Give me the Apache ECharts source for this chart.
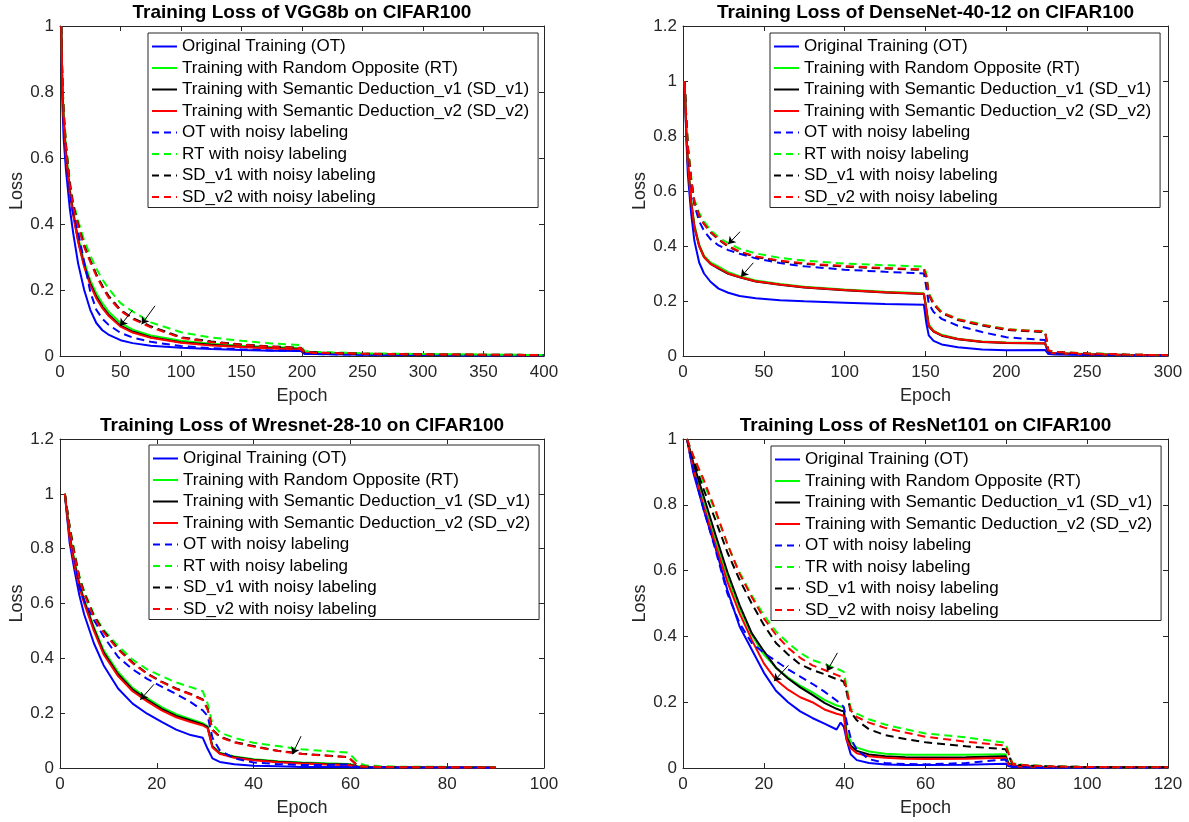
<!DOCTYPE html>
<html>
<head>
<meta charset="utf-8">
<title>Training Loss on CIFAR100</title>
<script src="https://cdn.jsdelivr.net/npm/echarts@6/dist/echarts.min.js"></script>
<style>
  html, body { margin: 0; padding: 0; background: #fff; }
  #chart { width: 1189px; height: 822px; }
</style>
</head>
<body>
<div id="chart"></div>
<script>
// ---- VGG8b ----
const vggEpochs = [1, 2, 3, 5, 8, 11, 15, 20, 25, 30, 35, 40, 50, 60, 75, 100, 125, 150, 175, 199, 202, 210, 225, 250, 300, 350, 400]
const vggOT = [1.00, 0.76, 0.66, 0.56, 0.45, 0.37, 0.28, 0.20, 0.14, 0.10, 0.078, 0.065, 0.048, 0.039, 0.031, 0.025, 0.021, 0.018, 0.016, 0.015, 0.007, 0.006, 0.005, 0.004, 0.003, 0.002, 0.002]
const vggRT = [1.00, 0.82, 0.73, 0.62, 0.51, 0.44, 0.36, 0.285, 0.23, 0.19, 0.16, 0.135, 0.10, 0.08, 0.062, 0.046, 0.037, 0.031, 0.027, 0.024, 0.011, 0.010, 0.009, 0.007, 0.005, 0.004, 0.003]
const vggSD1 = [1.00, 0.81, 0.72, 0.61, 0.50, 0.43, 0.35, 0.275, 0.22, 0.18, 0.15, 0.126, 0.092, 0.074, 0.057, 0.042, 0.034, 0.028, 0.024, 0.021, 0.010, 0.009, 0.008, 0.006, 0.004, 0.003, 0.002]
const vggSD2 = [1.00, 0.80, 0.71, 0.60, 0.495, 0.425, 0.345, 0.27, 0.215, 0.175, 0.145, 0.122, 0.089, 0.071, 0.055, 0.040, 0.032, 0.027, 0.023, 0.020, 0.010, 0.009, 0.008, 0.006, 0.004, 0.003, 0.002]
const vggOTNoisy = [1.00, 0.82, 0.72, 0.62, 0.50, 0.43, 0.375, 0.285, 0.195, 0.14, 0.113, 0.095, 0.070, 0.056, 0.043, 0.030, 0.024, 0.020, 0.017, 0.015, 0.007, 0.006, 0.005, 0.004, 0.003, 0.002, 0.002]
const vggRTNoisy = [1.00, 0.84, 0.75, 0.645, 0.535, 0.465, 0.41, 0.35, 0.305, 0.265, 0.232, 0.205, 0.16, 0.135, 0.102, 0.072, 0.056, 0.046, 0.038, 0.033, 0.015, 0.013, 0.011, 0.008, 0.006, 0.004, 0.003]
const vggSD1Noisy = [1.00, 0.83, 0.74, 0.635, 0.525, 0.455, 0.40, 0.335, 0.29, 0.248, 0.213, 0.183, 0.140, 0.115, 0.090, 0.057, 0.044, 0.035, 0.029, 0.025, 0.012, 0.011, 0.009, 0.007, 0.005, 0.004, 0.003]
const vggSD2Noisy = [1.00, 0.83, 0.74, 0.63, 0.52, 0.45, 0.395, 0.33, 0.285, 0.243, 0.208, 0.178, 0.137, 0.112, 0.087, 0.055, 0.042, 0.034, 0.028, 0.024, 0.012, 0.010, 0.009, 0.007, 0.005, 0.004, 0.003]
const vggArrows = [[60, 0.139, 49.6, 0.091], [78.5, 0.152, 67.5, 0.096]]

// ---- DenseNet-40-12 ----
const denseEpochs = [1, 2, 3, 5, 7, 10, 13, 17, 22, 28, 35, 45, 60, 75, 100, 125, 149, 150.5, 152, 155, 160, 170, 185, 200, 224, 226, 230, 250, 275, 300]
const denseOT = [1.00, 0.80, 0.66, 0.52, 0.42, 0.34, 0.30, 0.27, 0.245, 0.23, 0.218, 0.21, 0.203, 0.199, 0.194, 0.189, 0.186, 0.12, 0.075, 0.055, 0.042, 0.032, 0.024, 0.021, 0.022, 0.007, 0.005, 0.004, 0.003, 0.002]
const denseRT = [1.00, 0.83, 0.71, 0.57, 0.48, 0.405, 0.365, 0.34, 0.325, 0.305, 0.29, 0.275, 0.262, 0.252, 0.242, 0.234, 0.228, 0.175, 0.115, 0.092, 0.077, 0.063, 0.053, 0.049, 0.047, 0.013, 0.010, 0.007, 0.004, 0.003]
const denseSD1 = [1.00, 0.82, 0.70, 0.56, 0.47, 0.40, 0.36, 0.335, 0.318, 0.299, 0.286, 0.271, 0.259, 0.249, 0.239, 0.231, 0.225, 0.168, 0.108, 0.089, 0.074, 0.061, 0.051, 0.047, 0.045, 0.012, 0.010, 0.006, 0.004, 0.003]
const denseSD2 = [1.00, 0.82, 0.70, 0.56, 0.47, 0.40, 0.36, 0.335, 0.32, 0.30, 0.287, 0.272, 0.26, 0.25, 0.24, 0.232, 0.226, 0.17, 0.11, 0.09, 0.075, 0.062, 0.052, 0.048, 0.046, 0.012, 0.010, 0.006, 0.004, 0.003]
const denseOTNoisy = [1.00, 0.86, 0.75, 0.63, 0.55, 0.49, 0.455, 0.425, 0.402, 0.385, 0.372, 0.355, 0.338, 0.326, 0.314, 0.306, 0.300, 0.25, 0.19, 0.16, 0.135, 0.11, 0.087, 0.068, 0.058, 0.012, 0.009, 0.005, 0.003, 0.002]
const denseRTNoisy = [1.00, 0.87, 0.77, 0.655, 0.57, 0.52, 0.49, 0.458, 0.432, 0.41, 0.39, 0.373, 0.357, 0.347, 0.336, 0.330, 0.325, 0.30, 0.23, 0.195, 0.16, 0.135, 0.115, 0.098, 0.090, 0.02, 0.015, 0.010, 0.005, 0.003]
const denseSD1Noisy = [1.00, 0.87, 0.76, 0.645, 0.56, 0.51, 0.48, 0.45, 0.423, 0.398, 0.378, 0.36, 0.345, 0.335, 0.325, 0.318, 0.313, 0.288, 0.223, 0.188, 0.156, 0.131, 0.111, 0.095, 0.087, 0.019, 0.014, 0.009, 0.005, 0.003]
const denseSD2Noisy = [1.00, 0.87, 0.76, 0.645, 0.56, 0.51, 0.48, 0.452, 0.425, 0.40, 0.38, 0.362, 0.347, 0.337, 0.327, 0.320, 0.315, 0.29, 0.225, 0.19, 0.158, 0.133, 0.113, 0.097, 0.089, 0.02, 0.015, 0.009, 0.005, 0.003]
const denseArrows = [[35.3, 0.452, 28, 0.407], [43.5, 0.339, 35.9, 0.288]]

// ---- Wresnet-28-10 ----
const wresEpochs = [1, 2, 3, 4, 5, 7, 9, 12, 15, 18, 21, 24, 27, 29.5, 30.5, 31.5, 33, 36, 40, 45, 50, 55, 59.5, 60.5, 61.5, 63, 66, 70, 80, 90]
const wresOT = [1.00, 0.82, 0.72, 0.63, 0.56, 0.455, 0.375, 0.29, 0.235, 0.198, 0.168, 0.14, 0.12, 0.11, 0.07, 0.035, 0.022, 0.014, 0.008, 0.006, 0.004, 0.004, 0.004, 0.003, 0.002, 0.002, 0.002, 0.002, 0.001, 0.001]
const wresRT = [1.00, 0.85, 0.755, 0.675, 0.615, 0.515, 0.43, 0.35, 0.292, 0.255, 0.222, 0.196, 0.178, 0.163, 0.153, 0.08, 0.056, 0.042, 0.032, 0.025, 0.020, 0.017, 0.015, 0.012, 0.006, 0.004, 0.003, 0.003, 0.002, 0.002]
const wresSD1 = [1.00, 0.845, 0.748, 0.668, 0.608, 0.508, 0.422, 0.342, 0.286, 0.249, 0.216, 0.19, 0.173, 0.159, 0.149, 0.078, 0.054, 0.040, 0.030, 0.023, 0.018, 0.015, 0.013, 0.010, 0.005, 0.004, 0.003, 0.003, 0.002, 0.002]
const wresSD2 = [1.00, 0.84, 0.74, 0.66, 0.60, 0.50, 0.415, 0.335, 0.28, 0.243, 0.21, 0.185, 0.168, 0.155, 0.145, 0.075, 0.052, 0.037, 0.028, 0.021, 0.016, 0.013, 0.011, 0.008, 0.005, 0.004, 0.003, 0.003, 0.002, 0.002]
const wresOTNoisy = [1.00, 0.87, 0.77, 0.66, 0.61, 0.54, 0.48, 0.405, 0.36, 0.325, 0.297, 0.27, 0.24, 0.21, 0.19, 0.11, 0.065, 0.035, 0.02, 0.014, 0.011, 0.011, 0.013, 0.006, 0.004, 0.003, 0.003, 0.002, 0.002, 0.001]
const wresRTNoisy = [1.00, 0.88, 0.79, 0.70, 0.645, 0.56, 0.505, 0.445, 0.395, 0.36, 0.335, 0.312, 0.295, 0.28, 0.235, 0.16, 0.13, 0.11, 0.092, 0.08, 0.068, 0.062, 0.056, 0.04, 0.02, 0.01, 0.007, 0.005, 0.004, 0.003]
const wresSD1Noisy = [1.00, 0.88, 0.78, 0.695, 0.64, 0.555, 0.50, 0.435, 0.385, 0.345, 0.315, 0.29, 0.27, 0.25, 0.215, 0.14, 0.115, 0.095, 0.08, 0.063, 0.052, 0.046, 0.04, 0.025, 0.008, 0.005, 0.004, 0.003, 0.003, 0.002]
const wresSD2Noisy = [1.00, 0.875, 0.775, 0.69, 0.635, 0.55, 0.495, 0.432, 0.382, 0.343, 0.313, 0.288, 0.268, 0.248, 0.213, 0.138, 0.113, 0.093, 0.078, 0.062, 0.051, 0.045, 0.039, 0.024, 0.008, 0.005, 0.004, 0.003, 0.003, 0.002]
const wresArrows = [[19.4, 0.305, 16.6, 0.249], [49.8, 0.116, 48, 0.05]]

// ---- ResNet101 ----
const resEpochs = [1, 2.5, 5, 8, 11, 14, 17, 20, 23, 26, 29, 32, 35, 38, 39, 39.8, 40.5, 41.5, 43, 46, 50, 55, 60, 70, 79.8, 80.5, 81.5, 84, 90, 100, 110, 120]
const resOT = [1.00, 0.90, 0.79, 0.67, 0.54, 0.43, 0.36, 0.29, 0.235, 0.20, 0.172, 0.152, 0.135, 0.117, 0.138, 0.125, 0.085, 0.042, 0.024, 0.015, 0.011, 0.009, 0.009, 0.010, 0.013, 0.006, 0.003, 0.002, 0.001, 0.001, 0.001, 0.001]
const resRT = [1.00, 0.92, 0.81, 0.69, 0.58, 0.485, 0.405, 0.345, 0.305, 0.275, 0.25, 0.23, 0.207, 0.19, 0.187, 0.184, 0.11, 0.08, 0.062, 0.05, 0.043, 0.04, 0.04, 0.04, 0.042, 0.016, 0.008, 0.005, 0.003, 0.002, 0.002, 0.002]
const resSD1 = [1.00, 0.93, 0.83, 0.71, 0.595, 0.495, 0.41, 0.355, 0.305, 0.272, 0.245, 0.222, 0.198, 0.18, 0.175, 0.172, 0.095, 0.068, 0.052, 0.041, 0.036, 0.033, 0.032, 0.033, 0.036, 0.014, 0.007, 0.005, 0.003, 0.002, 0.002, 0.002]
const resSD2 = [1.00, 0.91, 0.80, 0.68, 0.565, 0.47, 0.39, 0.318, 0.268, 0.238, 0.215, 0.20, 0.178, 0.165, 0.162, 0.158, 0.085, 0.06, 0.045, 0.036, 0.031, 0.028, 0.027, 0.028, 0.031, 0.012, 0.006, 0.004, 0.003, 0.002, 0.002, 0.002]
const resOTNoisy = [1.00, 0.91, 0.79, 0.665, 0.53, 0.44, 0.38, 0.35, 0.325, 0.30, 0.278, 0.256, 0.232, 0.205, 0.195, 0.185, 0.14, 0.09, 0.055, 0.027, 0.015, 0.012, 0.011, 0.015, 0.026, 0.008, 0.004, 0.003, 0.002, 0.001, 0.001, 0.001]
const resRTNoisy = [1.00, 0.95, 0.87, 0.78, 0.68, 0.595, 0.525, 0.465, 0.415, 0.38, 0.35, 0.328, 0.316, 0.302, 0.297, 0.292, 0.245, 0.18, 0.165, 0.148, 0.132, 0.118, 0.105, 0.093, 0.077, 0.05, 0.015, 0.010, 0.006, 0.003, 0.002, 0.002]
const resSD1Noisy = [1.00, 0.94, 0.85, 0.755, 0.655, 0.572, 0.50, 0.435, 0.38, 0.345, 0.315, 0.298, 0.285, 0.27, 0.267, 0.262, 0.23, 0.17, 0.145, 0.118, 0.10, 0.088, 0.078, 0.066, 0.057, 0.04, 0.012, 0.008, 0.005, 0.003, 0.002, 0.002]
const resSD2Noisy = [1.00, 0.95, 0.88, 0.785, 0.68, 0.59, 0.52, 0.455, 0.405, 0.365, 0.335, 0.312, 0.298, 0.283, 0.278, 0.272, 0.24, 0.175, 0.155, 0.138, 0.122, 0.108, 0.095, 0.08, 0.068, 0.045, 0.013, 0.009, 0.005, 0.003, 0.002, 0.002]
const resArrows = [[26.1, 0.312, 22.5, 0.264], [38.2, 0.35, 35.6, 0.294]]

const lineNames = [
  'Original Training (OT)',
  'Training with Random Opposite (RT)',
  'Training with Semantic Deduction_v1 (SD_v1)',
  'Training with Semantic Deduction_v2 (SD_v2)',
  'OT with noisy labeling',
  'RT with noisy labeling',
  'SD_v1 with noisy labeling',
  'SD_v2 with noisy labeling'
]
// the ResNet101 panel says "TR" in its legend
const resLineNames = lineNames.slice()
resLineNames[5] = 'TR with noisy labeling'

const lineColors = ['#0000ff', '#00ff00', '#000000', '#ff0000']
const dashPattern = [8, 5]
const axisColor = '#262626'
const font = 'Liberation Sans, Arial, Helvetica, sans-serif'

const panels = [
  {
    title: 'Training Loss of VGG8b on CIFAR100',
    epochs: vggEpochs,
    lines: [vggOT, vggRT, vggSD1, vggSD2, vggOTNoisy, vggRTNoisy, vggSD1Noisy, vggSD2Noisy],
    names: lineNames, arrows: vggArrows,
    xMax: 400, xStep: 50, yMax: 1,
    grid: { left: 60, top: 26, width: 484, height: 330 },
    legend: { left: 148, top: 32 }
  },
  {
    title: 'Training Loss of DenseNet-40-12 on CIFAR100',
    epochs: denseEpochs,
    lines: [denseOT, denseRT, denseSD1, denseSD2, denseOTNoisy, denseRTNoisy, denseSD1Noisy, denseSD2Noisy],
    names: lineNames, arrows: denseArrows,
    xMax: 300, xStep: 50, yMax: 1.2,
    grid: { left: 683, top: 26, width: 485, height: 330 },
    legend: { left: 770, top: 32 }
  },
  {
    title: 'Training Loss of Wresnet-28-10 on CIFAR100',
    epochs: wresEpochs,
    lines: [wresOT, wresRT, wresSD1, wresSD2, wresOTNoisy, wresRTNoisy, wresSD1Noisy, wresSD2Noisy],
    names: lineNames, arrows: wresArrows,
    xMax: 100, xStep: 20, yMax: 1.2,
    grid: { left: 60, top: 439, width: 484, height: 329 },
    legend: { left: 149, top: 444 }
  },
  {
    title: 'Training Loss of ResNet101 on CIFAR100',
    epochs: resEpochs,
    lines: [resOT, resRT, resSD1, resSD2, resOTNoisy, resRTNoisy, resSD1Noisy, resSD2Noisy],
    names: resLineNames, arrows: resArrows,
    xMax: 120, xStep: 20, yMax: 1,
    grid: { left: 683, top: 439, width: 485, height: 329 },
    legend: { left: 771, top: 445 }
  }
]

let option = {
  animation: false,
  backgroundColor: '#fff',
  textStyle: { fontFamily: font },
  title: [],
  grid: [],
  legend: [],
  xAxis: [],
  yAxis: [],
  series: []
}

panels.forEach((p, i) => {
  option.grid.push(Object.assign({ outerBoundsMode: 'none', containLabel: false }, p.grid))

  option.title.push({
    text: p.title,
    left: p.grid.left + p.grid.width / 2,
    top: p.grid.top - 23,
    padding: 0,
    textAlign: 'center',
    textStyle: { fontSize: 19, fontWeight: 'bold', color: '#000', fontFamily: font }
  })

  // bottom / left axes carry labels, top / right ones close the box
  let axisLine = { show: true, onZero: false, lineStyle: { color: axisColor, width: 1 } }
  let axisTick = { show: true, inside: true, length: 5, lineStyle: { color: axisColor } }
  option.xAxis.push({
    type: 'value', gridIndex: i, position: 'bottom',
    min: 0, max: p.xMax, interval: p.xStep,
    name: 'Epoch', nameLocation: 'middle', nameGap: 31,
    nameTextStyle: { fontSize: 18, color: axisColor },
    axisLine: axisLine, axisTick: axisTick,
    axisLabel: { fontSize: 17, color: axisColor, margin: 8 },
    splitLine: { show: false }
  })
  option.xAxis.push({
    type: 'value', gridIndex: i, position: 'top',
    min: 0, max: p.xMax, interval: p.xStep,
    axisLine: axisLine, axisTick: axisTick,
    axisLabel: { show: false }, splitLine: { show: false }
  })
  option.yAxis.push({
    type: 'value', gridIndex: i, position: 'left',
    min: 0, max: p.yMax, interval: 0.2,
    name: 'Loss', nameLocation: 'middle', nameGap: 31,
    nameTextStyle: { fontSize: 18, color: axisColor },
    axisLine: axisLine, axisTick: axisTick,
    axisLabel: { fontSize: 17, color: axisColor, margin: 6 },
    splitLine: { show: false }
  })
  option.yAxis.push({
    type: 'value', gridIndex: i, position: 'right',
    min: 0, max: p.yMax, interval: 0.2,
    axisLine: axisLine, axisTick: axisTick,
    axisLabel: { show: false }, splitLine: { show: false }
  })

  option.legend.push({
    orient: 'vertical',
    left: p.legend.left, top: p.legend.top + 1,
    data: p.names.map((n, k) => ({
      name: n,
      lineStyle: { width: 2, color: lineColors[k % 4], type: k < 4 ? 'solid' : [7, 5] }
    })),
    itemWidth: 25, itemHeight: 12, itemGap: 4.5,
    padding: [5, 9, 2, 3],
    borderColor: axisColor, borderWidth: 1, borderRadius: 0,
    backgroundColor: '#fff',
    selectedMode: false,
    itemStyle: { opacity: 0 },
    textStyle: { fontSize: 17, color: '#000', fontFamily: font }
  })

  p.lines.forEach((vals, k) => {
    let s = {
      name: p.names[k],
      type: 'line',
      xAxisIndex: 2 * i,
      yAxisIndex: 2 * i,
      data: p.epochs.map((e, j) => [e, vals[j]]),
      symbol: 'none',
      silent: true,
      clip: true,
      color: lineColors[k % 4],
      lineStyle: { color: lineColors[k % 4], width: 2, type: k < 4 ? 'solid' : dashPattern }
    }
    if (k === 7) {
      s.markLine = {
        silent: true,
        symbol: ['none', 'arrow'],
        symbolSize: 7,
        label: { show: false },
        lineStyle: { color: '#000', width: 1, type: 'solid' },
        data: p.arrows.map(a => [{ coord: [a[0], a[1]] }, { coord: [a[2], a[3]] }])
      }
    }
    option.series.push(s)
  })
})

const myChart = echarts.init(document.getElementById('chart'))
myChart.setOption(option, true)
</script>
</body>
</html>
